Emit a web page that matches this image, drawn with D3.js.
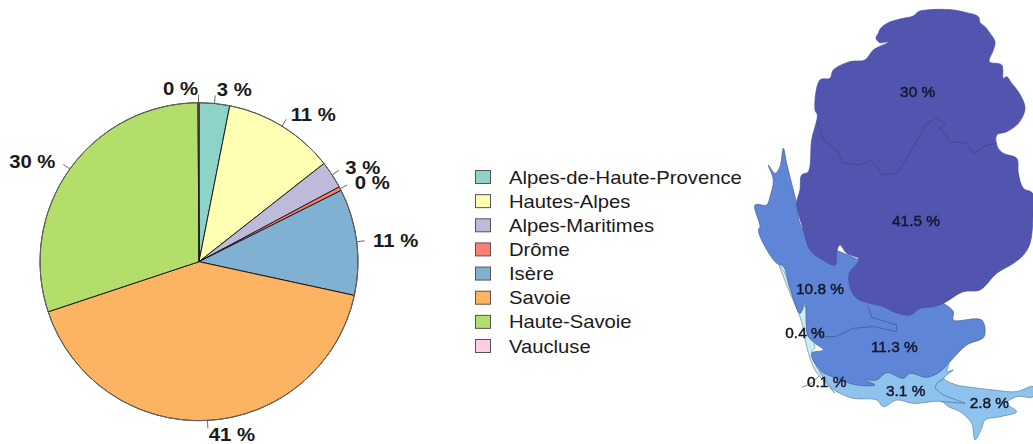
<!DOCTYPE html>
<html>
<head>
<meta charset="utf-8">
<script src="https://cdnjs.cloudflare.com/ajax/libs/d3/7.8.5/d3.min.js"></script>
<style>
html,body{margin:0;padding:0;background:#fff;overflow:hidden}
svg{display:block}
text{font-family:"Liberation Sans",Arial,sans-serif}
</style>
</head>
<body>
<svg id="chart" width="1033" height="444"></svg>
<script>
// Data
const departments = ["Alpes-de-Haute-Provence","Hautes-Alpes","Alpes-Maritimes","Drôme","Isère","Savoie","Haute-Savoie","Vaucluse"];
const shares = [3.1,11.3,2.8,0.4,10.8,41.5,30,0.1];
const pieLabels = ["3 %","11 %","3 %","0 %","11 %","41 %","30 %","0 %"];
const colours = ["#8DD3C7","#FFFFB3","#BEBADA","#FB8072","#80B1D3","#FDB462","#B3DE69","#FCCDE5"];

// Map outlines, in a traced geographic unit
const outlineUpper = [[408,115],[415,100],[422,85],[445,68],[470,60],[490,55],[520,48],[535,35],[560,30],[590,28],[640,30],[680,38],[715,50],[720,68],[735,80],[750,100],[765,125],[760,150],[748,185],[785,195],[790,235],[800,230],[815,250],[838,280],[855,325],[835,370],[800,395],[770,405],[772,440],[790,460],[830,475],[835,520],[850,565],[878,580],[879,650],[870,730],[850,765],[820,790],[770,820],[720,870],[670,875],[610,910],[580,920],[540,925],[510,945],[460,935],[430,920],[390,910],[350,895],[330,860],[328,820],[355,785],[355,775],[320,760],[300,735],[290,755],[285,795],[240,775],[210,750],[190,690],[170,610],[180,570],[185,525],[205,515],[215,420],[232,345],[225,330],[240,240],[270,235],[280,210],[330,185],[375,180],[400,150],[440,130],[445,125],[420,128]];
const borderUpper = [[232,365],[250,420],[290,450],[310,490],[360,495],[390,480],[410,500],[425,525],[470,520],[510,460],[560,370],[590,355],[618,370],[600,385],[630,425],[680,430],[700,460],[740,435],[770,430]];
const outlineMiddle = [[130,445],[140,490],[160,570],[170,610],[190,690],[400,800],[610,910],[640,935],[640,960],[725,960],[732,1010],[680,1035],[630,1085],[600,1115],[560,1132],[510,1120],[490,1135],[440,1118],[410,1140],[375,1140],[405,1155],[350,1155],[290,1135],[240,1110],[215,1060],[250,1050],[225,1030],[205,1010],[200,990],[195,910],[180,940],[150,865],[130,800],[110,790],[75,740],[55,690],[60,680],[45,615],[80,615],[90,590],[100,540],[85,495],[105,520],[120,500]];
const borderMiddle = [[225,1000],[250,1010],[285,1010],[340,985],[400,980],[470,995],[470,975],[395,952],[385,920]];
const outlineLower = [[625,1090],[620,1115],[640,1110],[612,1135],[650,1155],[680,1160],[760,1170],[830,1175],[879,1160],[879,1190],[830,1190],[800,1210],[830,1235],[780,1250],[735,1260],[725,1285],[705,1320],[695,1270],[660,1235],[625,1220],[605,1205],[520,1210],[470,1200],[430,1220],[410,1200],[340,1195],[300,1180],[270,1160],[240,1110],[300,1100]];
const borderLower = [[612,1135],[590,1150],[585,1165],[610,1185],[675,1210],[605,1205]];
const outlineStrip = [[118,795],[135,820],[150,865],[180,940],[195,915],[200,990],[205,1010],[225,1022],[222,1032],[225,1040],[215,1060],[235,1110],[270,1160],[285,1180],[262,1155],[225,1110],[200,1040],[191,990],[178,945],[142,860]];
const borderCoast = [[185,1162],[215,1150],[240,1125]];
const mapLabels = ["30 %","41.5 %","10.8 %","0.4 %","11.3 %","0.1 %","3.1 %","2.8 %"];
const mapLabelX = [533,528,240,195,463,260,497,748];
const mapLabelY = [275,660,865,997,1040,1145,1170,1208];

const svg = d3.select("#chart");

// Pie
const cx = 199, cy = 261.7, R = 159;
const pie = d3.pie().sort(null).value(d => d)(shares);
const arc = d3.arc().innerRadius(0).outerRadius(R);
const gp = svg.append("g").attr("transform", `translate(${cx},${cy})`);
gp.selectAll("path").data(pie).join("path")
  .attr("d", arc)
  .attr("fill", (d,i) => colours[i])
  .attr("stroke", "#111").attr("stroke-width", 0.9).attr("stroke-linejoin","round");
gp.append("circle").attr("r", R).attr("fill","none").attr("stroke","#6a6a6a").attr("stroke-width",0.9);

const mid = d => (d.startAngle + d.endAngle) / 2;
const tickOuter = R + 8;
gp.selectAll("line").data(pie).join("line")
  .attr("x1", d => R * Math.sin(mid(d)))
  .attr("y1", d => -R * Math.cos(mid(d)))
  .attr("x2", d => tickOuter * Math.sin(mid(d)))
  .attr("y2", d => -tickOuter * Math.cos(mid(d)))
  .attr("stroke", "#555").attr("stroke-width", 0.9);

const nudgeX = [19,27,24,25,31,24,-31,-18];
const nudgeY = [-6,-5,-3.5,-3,-1,5.5,-3.5,-6];
gp.selectAll("text").data(pie).join("text")
  .attr("transform", (d,i) => `translate(${tickOuter * Math.sin(mid(d)) + nudgeX[i]},${-tickOuter * Math.cos(mid(d)) + nudgeY[i]}) scale(1.07,1)`)
  .attr("text-anchor","middle").attr("dominant-baseline","central")
  .attr("font-size", 19).attr("font-weight","bold").attr("fill","#1a1a1a")
  .text((d,i) => pieLabels[i]);

// Legend
const legendY = d3.scalePoint().domain(departments).range([177,346]);
const gl = svg.append("g");
gl.selectAll("rect").data(departments).join("rect")
  .attr("x", 475.5).attr("y", d => legendY(d) - 6.5)
  .attr("width", 15).attr("height", 13)
  .attr("fill", (d,i) => colours[i])
  .attr("stroke", "#555").attr("stroke-width", 1);
gl.selectAll("text").data(departments).join("text")
  .attr("transform", d => `translate(509,${legendY(d) + 0.5}) scale(1.125,1)`)
  .attr("dominant-baseline","central")
  .attr("font-size", 18).attr("fill","#1a1a1a")
  .text(d => d);

// Map
const mx = d3.scaleLinear().domain([0,879]).range([740,1033]);
const my = d3.scaleLinear().domain([0,1332]).range([0,444]);
const closed = d3.line().x(d => mx(d[0])).y(d => my(d[1])).curve(d3.curveCatmullRomClosed.alpha(0.5));
const open = d3.line().x(d => mx(d[0])).y(d => my(d[1]));

svg.append("defs").append("filter").attr("id","soft")
  .append("feGaussianBlur").attr("stdDeviation",0.45);
const gm = svg.append("g").attr("filter","url(#soft)");
const regionStroke = "#4a5f95";
gm.append("path").attr("d", closed(outlineLower)).attr("fill","#8ec3ee").attr("stroke","#5c7da8").attr("stroke-width",0.7);
gm.append("path").attr("d", open(borderCoast)).attr("fill","none").attr("stroke","#667").attr("stroke-width",0.8);
gm.append("path").attr("d", closed(outlineStrip)).attr("fill","#c8f0f2").attr("stroke","#6d8a99").attr("stroke-width",0.7);
gm.append("path").attr("d", closed(outlineMiddle)).attr("fill","#5f86d6").attr("stroke",regionStroke).attr("stroke-width",0.7);
gm.append("path").attr("d", closed(outlineUpper)).attr("fill","#5155b0").attr("stroke","#484c9c").attr("stroke-width",0.7);
gm.append("path").attr("d", open(borderUpper)).attr("fill","none").attr("stroke","#44478f").attr("stroke-width",0.9);
gm.append("path").attr("d", open(borderMiddle)).attr("fill","none").attr("stroke","#3f5c9c").attr("stroke-width",0.8);
gm.append("path").attr("d", open(borderLower)).attr("fill","none").attr("stroke","#4f78a8").attr("stroke-width",0.8);

svg.append("g").attr("filter","url(#soft)").selectAll("text").data(mapLabels).join("text")
  .attr("x", (d,i) => mx(mapLabelX[i]))
  .attr("y", (d,i) => my(mapLabelY[i]))
  .attr("text-anchor","middle").attr("dominant-baseline","central")
  .attr("font-size", 15.4).attr("fill","#16162a").attr("stroke","#16162a").attr("stroke-width",0.45)
  .text(d => d);
</script>
</body>
</html>
